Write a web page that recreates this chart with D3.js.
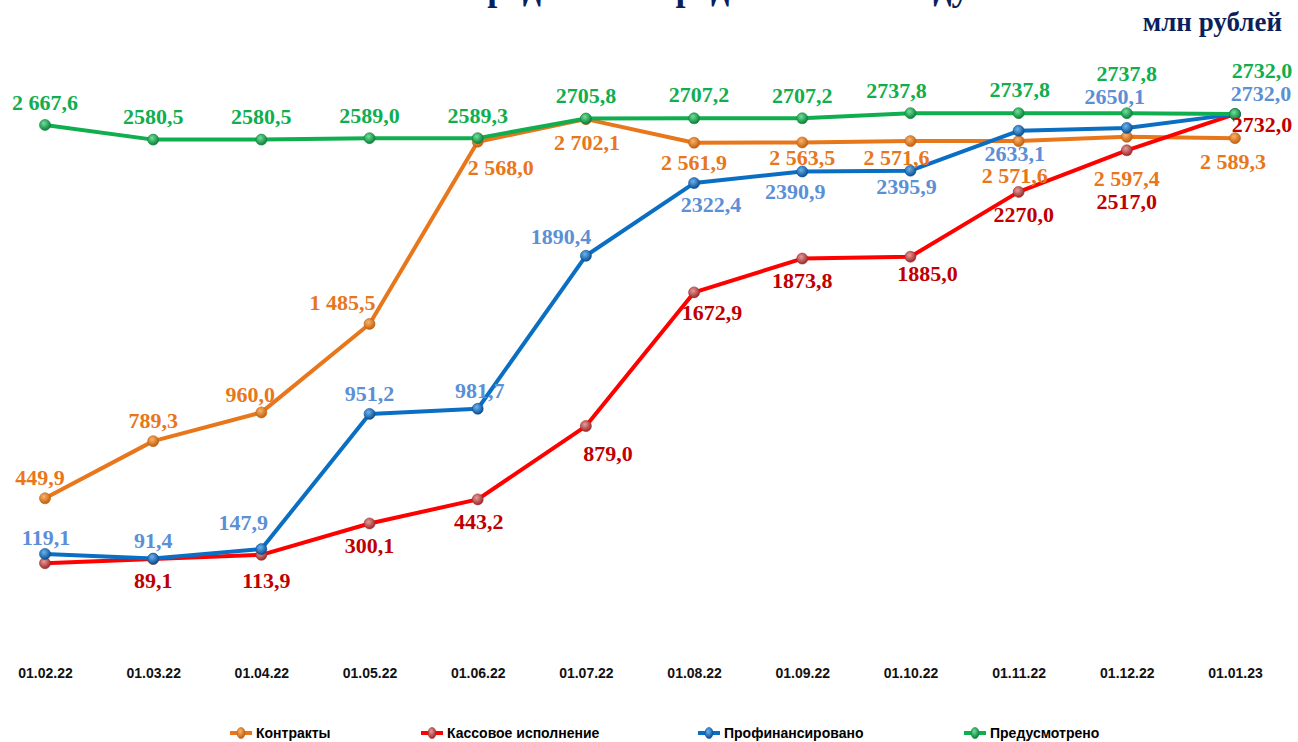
<!DOCTYPE html>
<html>
<head>
<meta charset="utf-8">
<script src="https://cdn.jsdelivr.net/npm/d3@7"></script>
<style>
  body { margin: 0; background: #fff; }
  svg { display: block; }
</style>
</head>
<body>
<div id="chart"></div>
<script>
const dates = ['01.02.22', '01.03.22', '01.04.22', '01.05.22', '01.06.22', '01.07.22',
  '01.08.22', '01.09.22', '01.10.22', '01.11.22', '01.12.22', '01.01.23'];

const contracts = [449.9, 789.3, 960.0, 1485.5, 2568.0, 2702.1, 2561.9, 2563.5, 2571.6, 2571.6, 2597.4, 2589.3];
const contractsText = ['449,9', '789,3', '960,0', '1 485,5', '2 568,0', '2 702,1', '2 561,9', '2 563,5', '2 571,6', '2 571,6', '2 597,4', '2 589,3'];

const cash = [64.0, 89.1, 113.9, 300.1, 443.2, 879.0, 1672.9, 1873.8, 1885.0, 2270.0, 2517.0, 2732.0];
const cashText = ['', '89,1', '113,9', '300,1', '443,2', '879,0', '1672,9', '1873,8', '1885,0', '2270,0', '2517,0', '2732,0'];

const financed = [119.1, 91.4, 147.9, 951.2, 981.7, 1890.4, 2322.4, 2390.9, 2395.9, 2633.1, 2650.1, 2732.0];
const financedText = ['119,1', '91,4', '147,9', '951,2', '981,7', '1890,4', '2322,4', '2390,9', '2395,9', '2633,1', '2650,1', '2732,0'];

const planned = [2667.6, 2580.5, 2580.5, 2589.0, 2589.3, 2705.8, 2707.2, 2707.2, 2737.8, 2737.8, 2737.8, 2732.0];
const plannedText = ['2 667,6', '2580,5', '2580,5', '2589,0', '2589,3', '2705,8', '2707,2', '2707,2', '2737,8', '2737,8', '2737,8', '2732,0'];

// label placement relative to the point: [dx, dy of baseline]
const contractsOffsets = [[-5, -13], [0, -13], [-11, -10], [-27, -14], [23, 33], [1, 31], [0, 27], [0, 23], [-14, 24], [-4, 42], [0, 49], [-2, 31]];
const cashOffsets = [[0, 0], [0, 29], [5, 33], [0, 30], [1, 30], [22, 35], [18, 28], [0, 29], [17, 24], [5, 30], [0, 59], [27, 18]];
const financedOffsets = [[1, -9], [0, -11], [-18, -19], [0, -13], [2, -11], [-25, -12], [17, 29], [-7, 27], [-4, 23], [-4, 30], [-12, -24], [26, -13]];
const plannedOffsets = [[0, -15], [0, -16], [0, -16], [0, -15], [0, -15], [0, -16], [5, -16], [0, -15], [-14, -15], [1, -16], [0, -32], [27, -36]];

const series = [
  { name: 'Контракты', values: contracts, text: contractsText, offsets: contractsOffsets,
    line: '#E8761B', label: '#E8761B', light: '#FBB36A', dark: '#C15F0E' },
  { name: 'Кассовое исполнение', values: cash, text: cashText, offsets: cashOffsets,
    line: '#FF0000', label: '#C00000', light: '#E89A9A', dark: '#9C2A2A' },
  { name: 'Профинансировано', values: financed, text: financedText, offsets: financedOffsets,
    line: '#0A6FC2', label: '#5B8FD6', light: '#6AB4EE', dark: '#0A4F94' },
  { name: 'Предусмотрено', values: planned, text: plannedText, offsets: plannedOffsets,
    line: '#10AE4E', label: '#10AE4E', light: '#6EE09A', dark: '#0A8038' },
];

const width = 1298, height = 742;

const svg = d3.select('#chart')
  .append('svg')
  .attr('width', width)
  .attr('height', height);

const defs = svg.append('defs');
series.forEach((s, i) => {
  const g = defs.append('radialGradient')
    .attr('id', 'ball' + i)
    .attr('cx', '40%').attr('cy', '35%').attr('r', '65%');
  g.append('stop').attr('offset', '0%').attr('stop-color', s.light);
  g.append('stop').attr('offset', '100%').attr('stop-color', s.dark);
});

const x = d3.scalePoint().domain(dates).range([45, 1235]);
const y = d3.scaleLinear().domain([0, 3000]).range([574, 69]);

// title sits above the visible area, only its descenders show
svg.append('text')
  .attr('x', 690)
  .attr('y', 0)
  .attr('text-anchor', 'middle')
  .style('font', 'bold 36px "Liberation Serif", serif')
  .attr('fill', '#0B1F5C')
  .text('Распределение средств в 2022 году');

svg.append('text')
  .attr('x', 1282)
  .attr('y', 31)
  .attr('text-anchor', 'end')
  .style('font', 'bold 27px "Liberation Serif", serif')
  .attr('fill', '#0B1F5C')
  .text('млн рублей');

// x axis
const xAxis = svg.append('g')
  .attr('transform', 'translate(0, 668)')
  .call(d3.axisBottom(x).tickSize(0).tickPadding(0));
xAxis.select('.domain').remove();
xAxis.selectAll('text')
  .style('font', 'bold 14px "Liberation Sans", Arial, sans-serif')
  .attr('fill', '#111');

const line = d3.line()
  .x((d, i) => x(dates[i]))
  .y((d) => y(d));

series.forEach((s, si) => {
  const g = svg.append('g');
  g.append('path')
    .datum(s.values)
    .attr('fill', 'none')
    .attr('stroke', s.line)
    .attr('stroke-width', 4)
    .attr('stroke-linejoin', 'round')
    .attr('d', line);
  g.selectAll('circle')
    .data(s.values)
    .enter()
    .append('circle')
    .attr('cx', (d, i) => x(dates[i]))
    .attr('cy', (d) => y(d))
    .attr('r', 5.5)
    .attr('fill', 'url(#ball' + si + ')')
    .attr('stroke', s.dark)
    .attr('stroke-width', 0.6);
});

series.forEach((s) => {
  svg.append('g')
    .selectAll('text')
    .data(s.values)
    .enter()
    .append('text')
    .attr('x', (d, i) => x(dates[i]) + s.offsets[i][0])
    .attr('y', (d, i) => y(d) + s.offsets[i][1])
    .attr('text-anchor', 'middle')
    .style('font', 'bold 22px "Liberation Serif", "Times New Roman", serif')
    .attr('fill', s.label)
    .text((d, i) => s.text[i]);
});

// legend
const legendX = [230, 421, 698, 964];
const legend = svg.append('g')
  .selectAll('g')
  .data(series)
  .enter()
  .append('g')
  .attr('transform', (d, i) => `translate(${legendX[i]}, 733)`);

legend.append('line')
  .attr('x1', 0).attr('x2', 22)
  .attr('stroke', (d) => d.line)
  .attr('stroke-width', 4);
legend.append('ellipse')
  .attr('cx', 11).attr('rx', 4).attr('ry', 5.5)
  .attr('fill', (d, i) => 'url(#ball' + i + ')')
  .attr('stroke', (d) => d.dark)
  .attr('stroke-width', 0.6);
legend.append('text')
  .attr('x', 26)
  .attr('y', 5)
  .style('font', 'bold 14px "Liberation Sans", Arial, sans-serif')
  .attr('fill', '#000')
  .text((d) => d.name);
</script>
</body>
</html>
